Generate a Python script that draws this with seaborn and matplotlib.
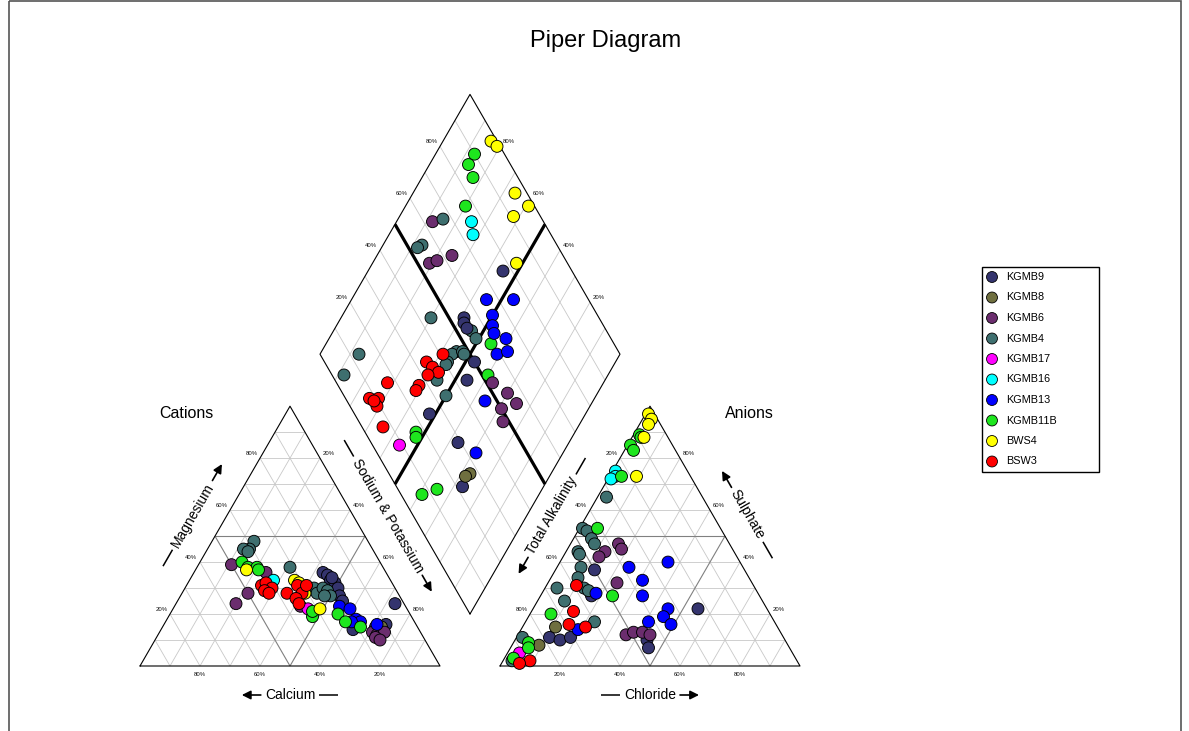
import numpy as np
import pandas as pd
import matplotlib
matplotlib.use("Agg")
import matplotlib.pyplot as plt
from matplotlib.patches import Rectangle
import seaborn as sns

sns.set_theme(style="white")
plt.rcParams['font.family'] = ['Liberation Sans', 'DejaVu Sans']
plt.rcParams['text.color'] = 'black'

# ---------------- data ----------------
groups = ["KGMB9", "KGMB8", "KGMB6", "KGMB4", "KGMB17", "KGMB16",
          "KGMB13", "KGMB11B", "BWS4", "BSW3"]
colors = ["#34346e", "#6f6f3f", "#6b2d6e", "#3e6f6f", "#ff00ff", "#00ffff",
          "#0000ff", "#1ee61e", "#ffff00", "#ff0000"]

# Cation triangle: Calcium %, Magnesium % (Na+K is the rest)
cation_site = (["KGMB9"] * 12 + ["KGMB8"] * 1 + ["KGMB6"] * 10 + ["KGMB4"] * 11 +
               ["KGMB17"] * 1 + ["KGMB16"] * 1 + ["KGMB13"] * 6 + ["KGMB11B"] * 9 +
               ["BWS4"] * 5 + ["BSW3"] * 11)
cation_ca = [21, 20, 20, 19, 19, 20, 20, 22, 10, 3, 19, 14,
             12,
             50, 40, 50, 56, 35, 16, 15, 12, 16, 15,
             38, 41, 43, 42, 31, 27, 27, 24, 23, 23, 25,
             33,
             39,
             22, 19, 19, 18, 13, 21,
             46, 45, 42, 42, 33, 32, 24, 23, 19,
             46, 32, 31, 31, 29,
             44, 42, 41, 44, 43, 37, 32, 32, 35, 35, 29]
cation_mg = [36, 35, 33, 32, 30, 27, 25, 14, 16, 24, 34, 15,
             15,
             39, 36, 28, 24, 23, 13, 12, 13, 11, 10,
             48, 45, 45, 44, 38, 30, 28, 30, 29, 27, 27,
             22,
             33,
             23, 22, 18, 17, 16, 17,
             40, 38, 38, 37, 19, 21, 20, 17, 15,
             37, 33, 32, 28, 22,
             31, 32, 30, 29, 28, 28, 31, 28, 26, 24, 31]

# Anion triangle: Chloride %, Sulphate % (Total Alkalinity is the rest)
anion_site = (["KGMB9"] * 8 + ["KGMB8"] * 2 + ["KGMB6"] * 9 + ["KGMB4"] * 16 +
              ["KGMB17"] * 1 + ["KGMB16"] * 3 + ["KGMB13"] * 10 + ["KGMB11B"] * 11 +
              ["BWS4"] * 5 + ["BSW3"] * 6)
anion_cl = [13, 17, 11, 15, 18, 44, 46, 55,
            11, 9,
            16, 18, 13, 12, 23, 36, 38, 41, 44,
            3, 1, 3, 6, 8, 4, 5, 8, 9, 13, 15, 4, 9, 23, 2, 3,
            4,
            1, 2, 1,
            24, 36, 31, 34, 18, 45, 45, 41, 49, 19,
            2, 3, 1, 3, 4, 6, 24, 7, 5, 6, 3,
            1, 3, 3, 4, 9,
            10, 14, 15, 21, 9, 6]
anion_so4 = [37, 27, 11, 10, 11, 10, 7, 22,
             15, 8,
             47, 45, 44, 42, 32, 12, 13, 13, 12,
             65, 53, 52, 49, 47, 44, 43, 38, 34, 30, 29, 30, 25, 17, 11, 2,
             5,
             75, 73, 72,
             38, 40, 33, 27, 28, 22, 19, 17, 16, 14,
             89, 88, 85, 83, 73, 53, 27, 20, 9, 7, 3,
             97, 95, 93, 88, 73,
             31, 21, 16, 15, 2, 1]

# Diamond: Calcium+Magnesium %, Sulphate+Chloride %
diamond_site = (["BWS4"] * 6 + ["KGMB11B"] * 10 + ["KGMB16"] * 2 + ["KGMB6"] * 9 +
                ["KGMB4"] * 16 + ["KGMB9"] * 9 + ["KGMB13"] * 10 + ["KGMB8"] * 2 +
                ["KGMB17"] * 1 + ["BSW3"] * 13)
diamond_camg = [84, 81, 66, 59, 62, 52,
                87, 87, 83, 80, 45, 40, 53, 52, 39, 35,
                75, 72,
                88, 75, 81, 79, 37, 30, 25, 29, 26,
                85, 87, 88, 70, 54, 51, 55, 56, 53, 52, 56, 56, 56, 50, 87, 88,
                55, 59, 58, 56, 47, 46, 52, 37, 27,
                55, 46, 50, 48, 46, 41, 41, 38, 36, 29,
                27, 28,
                56,
                59, 63, 60, 57, 60, 72, 61, 61, 75, 72, 71, 65, 73]
diamond_so4cl = [98, 99, 96, 98, 91, 83,
                 90, 86, 85, 77, 59, 52, 17, 16, 7, 13,
                 76, 74,
                 63, 63, 54, 57, 52, 55, 56, 50, 48,
                 67, 55, 53, 44, 55, 55, 46, 44, 48, 48, 41, 40, 34, 34, 13, 4,
                 77, 55, 54, 54, 50, 44, 25, 29, 22,
                 66, 75, 65, 63, 62, 65, 59, 63, 46, 33,
                 27, 25,
                 9,
                 41, 34, 35, 36, 32, 17, 27, 25, 8, 11, 9, 7, 9]

tick_values = [20, 40, 60, 80]

# ---------------- geometry (pixel space) ----------------
W, H = 1189, 731
fig = plt.figure(figsize=(W / 100, H / 100), dpi=100)
ax = fig.add_axes([0, 0, 1, 1])
ax.set_xlim(0, W)
ax.set_ylim(H, 0)
ax.axis("off")

S = 300.0
HT = S * np.sqrt(3) / 2
CAT0 = (140.0, 666.0)
AN0 = (500.0, 666.0)
DB = (470.0, 614.0)


def cat_xy(ca, mg):
    ca = np.asarray(ca, float)
    mg = np.asarray(mg, float)
    na = 100 - ca - mg
    return CAT0[0] + S * (na + mg / 2) / 100, CAT0[1] - HT * mg / 100


def an_xy(cl, so4):
    cl = np.asarray(cl, float)
    so4 = np.asarray(so4, float)
    return AN0[0] + S * (cl + so4 / 2) / 100, AN0[1] - HT * so4 / 100


def dia_xy(m, s):
    m = np.asarray(m, float)
    s = np.asarray(s, float)
    return DB[0] + S / 2 * (s - m) / 100, DB[1] - HT * (m + s) / 100


def seg(p, q, **kw):
    ax.plot([p[0], q[0]], [p[1], q[1]], solid_capstyle="butt", **kw)


GRID = "#c8c8c8"
MID = "#808080"
for k in range(10, 100, 10):
    c = MID if k == 50 else GRID
    lw = 0.8 if k == 50 else 0.6
    z = 1.5 if k == 50 else 1
    kw = dict(color=c, lw=lw, zorder=z)
    # cation grid
    seg(cat_xy(100 - k, k), cat_xy(0, k), **kw)
    seg(cat_xy(k, 0), cat_xy(k, 100 - k), **kw)
    seg(cat_xy(100 - k, 0), cat_xy(0, 100 - k), **kw)
    # anion grid
    seg(an_xy(0, k), an_xy(100 - k, k), **kw)
    seg(an_xy(k, 0), an_xy(k, 100 - k), **kw)
    seg(an_xy(100 - k, 0), an_xy(0, 100 - k), **kw)
    # diamond grid
    if k == 50:
        dkw = dict(color="black", lw=2.3, zorder=3)
    else:
        dkw = dict(color=GRID, lw=0.6, zorder=1)
    seg(dia_xy(k, 0), dia_xy(k, 100), **dkw)
    seg(dia_xy(0, k), dia_xy(100, k), **dkw)

# outlines
okw = dict(color="black", lw=0.8, zorder=2)
for pts in ([cat_xy(100, 0), cat_xy(0, 0), cat_xy(0, 100), cat_xy(100, 0)],
            [an_xy(0, 0), an_xy(100, 0), an_xy(0, 100), an_xy(0, 0)],
            [dia_xy(0, 0), dia_xy(100, 0), dia_xy(100, 100), dia_xy(0, 100), dia_xy(0, 0)]):
    ax.plot([p[0] for p in pts], [p[1] for p in pts], **okw)

# tick labels
nL = (-0.866, -0.5)
nR = (0.866, -0.5)
nD = (0.0, 1.0)


def tick_label(p, n, txt, dist):
    ax.text(p[0] + n[0] * dist, p[1] + n[1] * dist, txt, fontsize=4.3,
            ha="center", va="center", color="#111111")


for k in tick_values:
    t = f"{k}%"
    tick_label(cat_xy(k, 0), nD, t, 8)
    tick_label(cat_xy(100 - k, k), nL, t, 10)
    tick_label(cat_xy(0, 100 - k), nR, t, 10)
    tick_label(an_xy(k, 0), nD, t, 8)
    tick_label(an_xy(0, 100 - k), nL, t, 10)
    tick_label(an_xy(100 - k, k), nR, t, 10)
    tick_label(dia_xy(100, k), nL, t, 10)
    tick_label(dia_xy(k, 100), nR, t, 10)

# ---------------- points ----------------
pal = dict(zip(groups, colors))
cat_df = pd.DataFrame({"site": cation_site, "a": cation_ca, "b": cation_mg})
cat_df["x"], cat_df["y"] = cat_xy(cat_df["a"], cat_df["b"])
an_df = pd.DataFrame({"site": anion_site, "a": anion_cl, "b": anion_so4})
an_df["x"], an_df["y"] = an_xy(an_df["a"], an_df["b"])
dia_df = pd.DataFrame({"site": diamond_site, "a": diamond_camg, "b": diamond_so4cl})
dia_df["x"], dia_df["y"] = dia_xy(dia_df["a"], dia_df["b"])
all_df = pd.concat([cat_df, an_df, dia_df], ignore_index=True)

sns.scatterplot(data=all_df, x="x", y="y", hue="site", palette=pal,
                hue_order=groups, s=74, edgecolor="black", linewidth=0.65,
                legend=False, ax=ax, zorder=5)
ax.set_xlim(0, W)
ax.set_ylim(H, 0)
ax.axis("off")

# ---------------- text ----------------
ax.text(606, 41, "Piper Diagram", fontsize=17, ha="center", va="center")
ax.text(186, 414, "Cations", fontsize=11.5, ha="center", va="center")
ax.text(749, 414, "Anions", fontsize=11.5, ha="center", va="center")

renderer = fig.canvas.get_renderer()


def arrow_label(c, rot, txt, arrow_end, fs=10.0, gap=4, L=19):
    tmp = ax.text(0, 0, txt, fontsize=fs)
    w = tmp.get_window_extent(renderer).width
    tmp.remove()
    ax.text(c[0], c[1], txt, rotation=rot, fontsize=fs, ha="center",
            va="center", rotation_mode="anchor")
    r = np.deg2rad(rot)
    u = np.array([np.cos(r), -np.sin(r)])
    c = np.array(c, float)
    p1 = c + u * (w / 2 + gap)
    p2 = c + u * (w / 2 + gap + L)
    q1 = c - u * (w / 2 + gap)
    q2 = c - u * (w / 2 + gap + L)
    akw = dict(arrowstyle="-|>", color="black", lw=1.2, mutation_scale=13,
               shrinkA=0, shrinkB=0)
    if arrow_end:
        ax.annotate("", xy=p2, xytext=p1, arrowprops=akw)
        seg(q1, q2, color="black", lw=1.1)
    else:
        ax.annotate("", xy=q2, xytext=q1, arrowprops=akw)
        seg(p1, p2, color="black", lw=1.1)


def outward(p, n, d):
    return (float(p[0]) + n[0] * d, float(p[1]) + n[1] * d)


arrow_label(outward(cat_xy(47.7, 52.3), nL, 30), 60, "Magnesium", True)
arrow_label(outward(cat_xy(0, 52), nR, 30), -60, "Sodium & Potassium", True)
arrow_label(outward(cat_xy(50, 0), nD, 29), 0, "Calcium", False)
arrow_label(outward(an_xy(0, 52), nL, 30), 60, "Total Alkalinity", False)
arrow_label(outward(an_xy(47.5, 52.5), nR, 30), -60, "Sulphate", False)
arrow_label(outward(an_xy(50, 0), nD, 29), 0, "Chloride", True)

# ---------------- legend ----------------
lx0, ly0, lx1, ly1 = 982, 267, 1099, 472
ax.add_patch(Rectangle((lx0, ly0), lx1 - lx0, ly1 - ly0, fill=False,
                       edgecolor="black", lw=1.0, zorder=6))
leg_y = ly0 + 10 + 20.5 * np.arange(len(groups))
ax.scatter(np.full(len(groups), 992.0), leg_y, c=colors, s=62,
           edgecolors="black", linewidths=0.6, zorder=7)
for yy, g in zip(leg_y, groups):
    ax.text(1006, yy, g, fontsize=7.8, ha="left", va="center", zorder=7)

# figure frame
ax.add_patch(Rectangle((8.5, 1), 1172, 740, fill=False, edgecolor="#555555",
                       lw=1.2, zorder=8))

fig.savefig("out.png", dpi=100)
